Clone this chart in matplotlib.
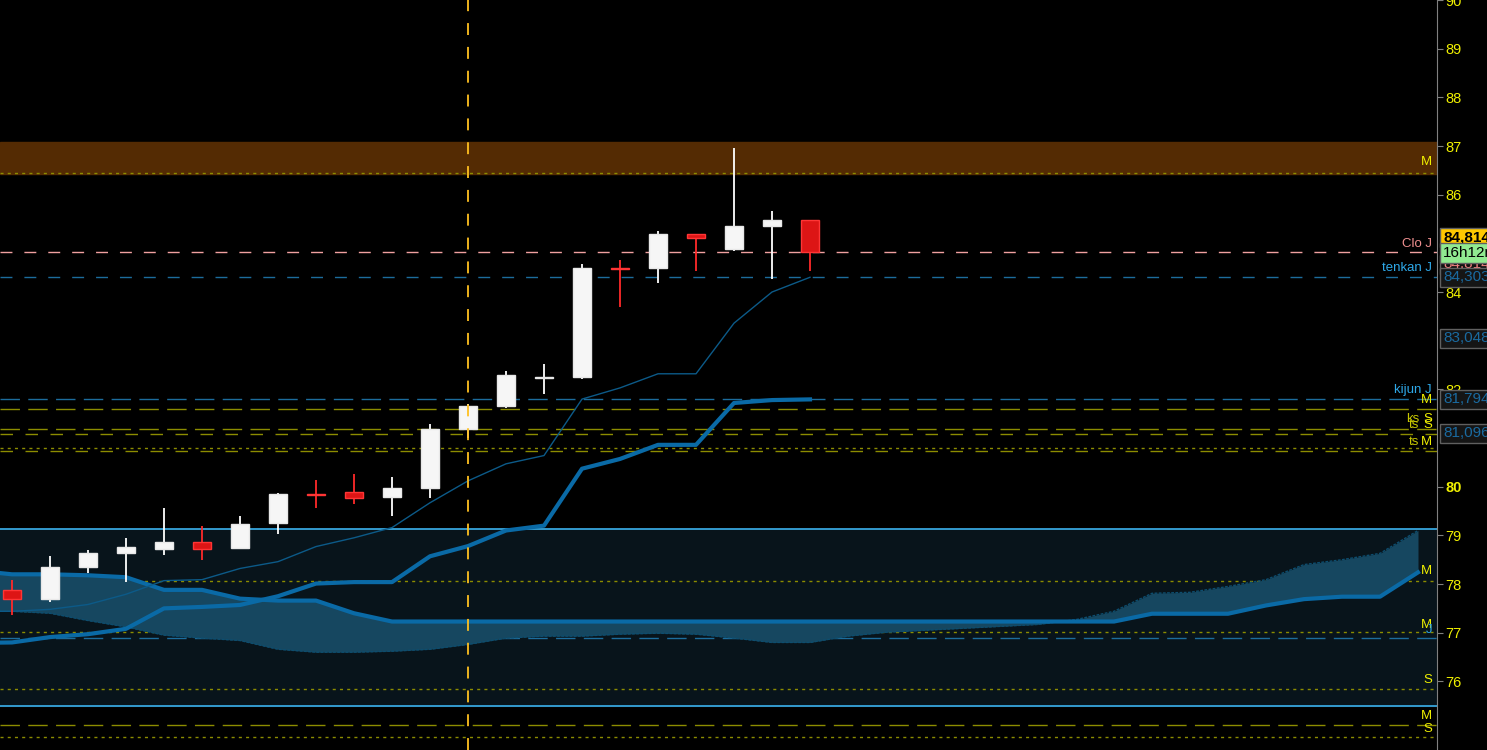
import matplotlib.pyplot as plt
from matplotlib.transforms import blended_transform_factory
import numpy as np

plt.rcParams['font.family'] = ['Liberation Sans', 'DejaVu Sans']

# Bougies (index 0..21)
opens = [77.87, 77.70, 78.35, 78.63, 78.72, 78.87, 78.74, 79.25, 79.85, 79.90, 79.78,
         79.97, 81.19, 81.66, 82.23, 82.25, 84.49, 84.49, 85.20, 84.88, 85.35, 85.47]
highs = [78.09, 78.57, 78.69, 78.95, 79.57, 79.20, 79.39, 79.88, 80.14, 80.27, 80.20,
         81.29, 81.70, 82.38, 82.52, 84.57, 84.65, 85.25, 85.20, 86.95, 85.66, 85.47]
lows = [77.36, 77.63, 78.22, 78.04, 78.59, 78.50, 78.71, 79.02, 79.57, 79.64, 79.39,
        79.76, 81.01, 81.62, 81.91, 82.21, 83.69, 84.18, 84.43, 84.84, 84.27, 84.43]
closes = [77.69, 78.35, 78.63, 78.77, 78.87, 78.72, 79.24, 79.86, 79.83, 79.76, 79.98,
          81.19, 81.66, 82.30, 82.25, 84.49, 84.47, 85.20, 85.10, 85.35, 85.47, 84.814]

# Tenkan / Kijun (index -1..21)
tenkan = [77.44, 77.44, 77.48, 77.58, 77.79, 78.07, 78.09, 78.32, 78.46, 78.77, 78.95, 79.16,
          79.67, 80.12, 80.47, 80.64, 81.80, 82.03, 82.32, 82.32, 83.36, 84.00, 84.303]
kijun = [76.79, 76.80, 76.91, 76.97, 77.08, 77.50, 77.53, 77.57, 77.75, 78.01, 78.04, 78.04,
         78.57, 78.78, 79.10, 79.20, 80.37, 80.57, 80.86, 80.86, 81.72, 81.78, 81.794]

# Nuage (index -1..37)
ssa = [77.45, 77.44, 77.40, 77.25, 77.12, 76.95, 76.89, 76.84, 76.66, 76.60, 76.60, 76.62,
       76.66, 76.76, 76.89, 76.93, 76.93, 76.97, 76.99, 76.97, 76.89, 76.80, 76.80, 76.93,
       77.01, 77.05, 77.09, 77.13, 77.17, 77.27, 77.44, 77.81, 77.83, 77.95, 78.09, 78.40,
       78.50, 78.63, 79.10]
ssb = [78.28, 78.20, 78.20, 78.18, 78.14, 77.88, 77.88, 77.70, 77.66, 77.66, 77.40, 77.23,
       77.23, 77.23, 77.23, 77.23, 77.23, 77.23, 77.23, 77.23, 77.23, 77.23, 77.23, 77.23,
       77.23, 77.23, 77.23, 77.23, 77.23, 77.23, 77.23, 77.39, 77.39, 77.39, 77.56, 77.69,
       77.74, 77.74, 78.24]

# Niveaux horizontaux
olive_levels = [86.45, 81.59, 81.18, 81.08, 80.79, 80.73, 78.07, 77.01, 75.84, 75.10, 74.86]
olive_styles = ['dot', 'long', 'long', 'mid', 'dot', 'mid', 'dot', 'dot', 'dot', 'long', 'dot']
band_top, band_bottom = 79.14, 75.49
zone_low, zone_high = 86.43, 87.09
clo_j, tenkan_j, kijun_j, j_level = 84.814, 84.303, 81.794, 76.90
vline_idx = 12

yticks = [76, 77, 78, 79, 80, 82, 84, 86, 87, 88, 89, 90]

# Libellés des niveaux (prix, texte, couleur)
level_labels = [(86.68, 'M', '#f0f000'), (84.98, 'Clo J', '#f09090'),
                (84.49, 'tenkan J', '#2ea8e8'), (81.99, 'kijun J', '#2ea8e8'),
                (81.78, 'M', '#f0f000'), (78.26, 'M', '#f0f000'), (77.15, 'M', '#f0f000'),
                (77.05, 'J', '#2ea8e8'), (76.02, 'S', '#f0f000'), (75.29, 'M', '#f0f000'),
                (75.02, 'S', '#f0f000')]
ts_labels = [(81.39, 'ks', 'S'), (81.27, 'ts', 'S'), (80.92, 'ts', 'M')]

# Étiquettes de prix encadrées (prix, texte, couleur texte, fond, graisse)
price_boxes = [(84.57, '84,814', '#f08080', '#111111', 'normal'),
               (84.303, '84,303', '#1a6aa0', '#151515', 'normal'),
               (83.048, '83,048', '#1a6aa0', '#151515', 'normal'),
               (81.794, '81,794', '#1a6aa0', '#151515', 'normal'),
               (81.096, '81,096', '#1a6aa0', '#151515', 'normal'),
               (85.12, '84,814', 'black', '#ffc800', 'bold'),
               (84.80, '16h12m', 'black', '#90ea90', 'normal')]

fig = plt.figure(figsize=(14.87, 7.5), dpi=100, facecolor='black')
ax = fig.add_axes([0, 0, 1437 / 1487, 1])
ax.set_facecolor('black')
ax.set_xlim(-12 / 38, 1425 / 38)
ax.set_ylim(80 - 264 / 48.8, 80 + 486 / 48.8)

# Bande et zone
ax.axhspan(band_bottom, band_top, color='#08141b', zorder=0)
ax.axhline(band_top, color='#3bb2ee', lw=1.2, zorder=1)
ax.axhline(band_bottom, color='#3bb2ee', lw=1.2, zorder=1)
ax.axhspan(zone_low, zone_high, color='#542b03', zorder=0)

# Nuage
xc = np.arange(-1, len(ssa) - 1)
ax.fill_between(xc, ssa, ssb, color='#164760', lw=0, zorder=2)
ax.plot(xc, ssa, color='#0d4d6e', lw=1, ls=(0, (2, 1)), zorder=3)
ax.plot(xc, ssb, color='#0a6aa6', lw=3, zorder=3)

# Niveaux olive
dash = {'dot': (0, (2.2, 3)), 'long': (0, (14, 6)), 'mid': (0, (9, 9))}
for lv, st in zip(olive_levels, olive_styles):
    ax.axhline(lv, color='#8c8c00', lw=1, ls=dash[st], zorder=1)

ax.axhline(clo_j, color='#f0a0a0', lw=1, ls=(0, (8.6, 8.6)), zorder=1)
ax.axhline(tenkan_j, color='#1c6c9c', lw=1, ls=(0, (8.6, 8.6)), zorder=1)
ax.axhline(kijun_j, color='#1c6c9c', lw=1, ls=(0, (14, 6)), zorder=1)
ax.axhline(j_level, color='#1c6c9c', lw=1, ls=(0, (14, 6)), zorder=1)

ax.axvline(vline_idx, color='#ffc020', lw=1.3, ls=(0, (6.6, 6.6)), zorder=6)

# Tenkan / Kijun
xl = np.arange(-1, len(tenkan) - 1)
ax.plot(xl, tenkan, color='#0c5a88', lw=1, zorder=4)
ax.plot(xl, kijun, color='#0a6aa6', lw=3, zorder=4)

# Bougies
for i, (o, h, l, c) in enumerate(zip(opens, highs, lows, closes)):
    up = c >= o
    col = 'white' if up else '#ff2a2a'
    ax.vlines(i, l, h, color=col, lw=1.3, zorder=5)
    face = '#f6f6f6' if up else '#dd1515'
    edge = '#e8e8e8' if up else '#ff3535'
    ax.bar(i, abs(c - o), bottom=min(o, c), width=0.45, color=face,
           edgecolor=edge, lw=1, zorder=5)

# Libellés à droite
tr = blended_transform_factory(ax.transAxes, ax.transData)
xr = 1432 / 1437
for y, s, c in level_labels:
    ax.text(xr, y, s, transform=tr, ha='right', va='center', color=c, fontsize=9.5)
for y, pre, s in ts_labels:
    ax.text(1419 / 1437, y, pre, transform=tr, ha='right', va='center',
            color='#c8c800', fontsize=9.5)
    ax.text(xr, y, s, transform=tr, ha='right', va='center', color='#f0f000', fontsize=9.5)

# Axe des prix
for s in ['top', 'left', 'bottom']:
    ax.spines[s].set_visible(False)
ax.spines['right'].set_color('#808080')
ax.set_xticks([])
ax.yaxis.tick_right()
ax.set_yticks(yticks, [str(t) for t in yticks])
ax.tick_params(axis='y', colors='#808080', labelcolor='#f0f000', length=4,
               labelsize=10.5, pad=2)
for lab in ax.get_yticklabels():
    if lab.get_text() == '80':
        lab.set_fontweight('bold')

# Étiquettes encadrées
xb = 1443 / 1437
for y, s, tc, bc, fw in price_boxes:
    ax.text(xb, y, s, transform=tr, ha='left', va='center', color=tc, fontsize=11,
            fontweight=fw, clip_on=False,
            bbox=dict(boxstyle='square,pad=0.18', fc=bc, ec='#606060', lw=1))

fig.savefig('out.png', dpi=100, facecolor='black')
